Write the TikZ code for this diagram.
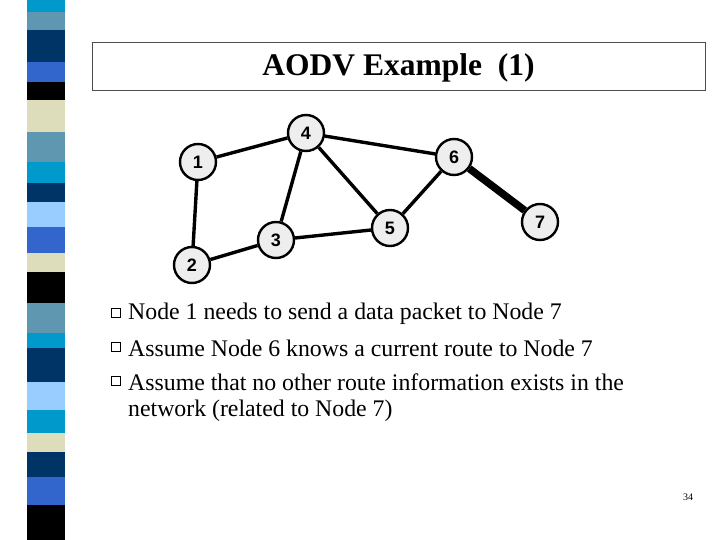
\documentclass[tikz,border=0pt]{standalone}
\usepackage{fontspec}
\setmainfont{Liberation Serif}
\newfontfamily\nodefont{Liberation Sans}
\definecolor{cyn}{HTML}{0099CC}
\definecolor{stl}{HTML}{5F97B0}
\definecolor{nav}{HTML}{003366}
\definecolor{roy}{HTML}{3366CC}
\definecolor{bge}{HTML}{DDDDBB}
\definecolor{lbl}{HTML}{99CCFF}
\definecolor{ngray}{HTML}{EEEEEE}
\tikzset{gnode/.style={circle,draw,line width=2.4pt,fill=ngray,minimum size=36pt,inner sep=0pt,font=\nodefont\bfseries\fontsize{18}{18}\selectfont},
edge/.style={line width=3.4pt},
bul/.style={draw,line width=0.9pt,minimum size=8.5pt,inner sep=0pt,fill=white},
txt/.style={anchor=west,font=\fontsize{23.8}{28}\selectfont,inner sep=0pt}}
\begin{document}
\begin{tikzpicture}[x=1pt,y=-1pt]
\useasboundingbox (0,0) rectangle (720,540);
\fill[white] (0,0) rectangle (720,540);
\foreach \a/\b/\c in {0/12/cyn,12/30/stl,30/62/nav,62/82/roy,82/100/black,100/132/bge,132/162/stl,162/183/cyn,183/202/nav,202/227/lbl,227/253/roy,253/272/bge,272/303/black,303/333/stl,333/348/cyn,348/382/nav,382/410/lbl,410/433/cyn,433/452/bge,452/477/nav,477/505/roy,505/540/black}
  \fill[\c] (27,\a) rectangle (65,\b);
\node[draw=black!70,line width=0.5pt,minimum width=613pt,minimum height=48pt,inner sep=0pt] (title) at (398.5,66) {};
\node[font=\fontsize{31.5}{33}\selectfont\bfseries] (tt) at (398.5,68) {AODV Example\ \ (1)};
\node[gnode] (n4) at (306,133) {4};
\node[gnode] (n1) at (198,162) {1};
\node[gnode] (n2) at (192,265) {2};
\node[gnode] (n3) at (276,240) {3};
\node[gnode] (n5) at (390,228) {5};
\node[gnode] (n6) at (454,157) {6};
\node[gnode] (n7) at (540,222) {7};
\draw[edge] (n1) -- (n4);
\draw[edge] (n1) -- (n2);
\draw[edge] (n2) -- (n3);
\draw[edge] (n3) -- (n4);
\draw[edge] (n3) -- (n5);
\draw[edge] (n4) -- (n5);
\draw[edge] (n4) -- (n6);
\draw[edge] (n5) -- (n6);
\draw[line width=7.5pt] (n6) -- (n7);
\node[bul] (b1) at (116,313) {};
\node[bul] (b2) at (116,347) {};
\node[bul] (b3) at (116,381) {};
\node[txt] (t1) at (128,314) {Node 1 needs to send a data packet to Node 7};
\node[txt] (t2) at (128,348) {Assume Node 6 knows a current route to Node 7};
\node[txt] (t3) at (128,382) {Assume that no other route information exists in the};
\node[txt] (t4) at (128,411) {network (related to Node 7)};
\node[font=\fontsize{10}{10}\selectfont] (pg) at (688,497) {34};
\end{tikzpicture}
\end{document}
